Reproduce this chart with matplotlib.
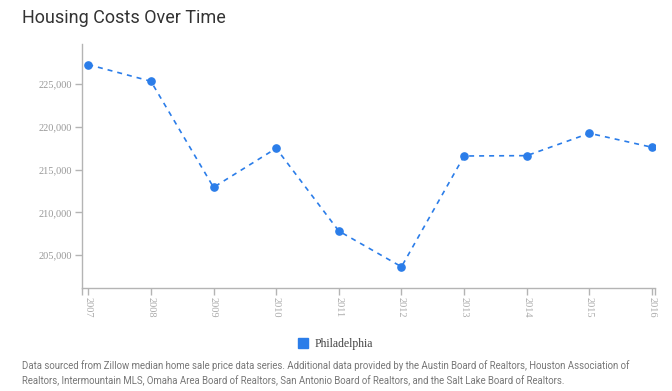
import matplotlib.pyplot as plt
from matplotlib.ticker import FuncFormatter

years = [2007, 2008, 2009, 2010, 2011, 2012, 2013, 2014, 2015, 2016]
prices = [227300, 225350, 212930, 217500, 207810, 203630, 216600, 216640, 219260, 217620]
yticks = [205000, 210000, 215000, 220000, 225000]

blue = '#2b7de9'
grey = '#b4b4b4'

fig = plt.figure(figsize=(6.72, 3.91), dpi=100)
ax = fig.add_axes([0.122, 0.264, 0.853, 0.623])

ax.plot(years, prices, color=blue, linestyle=(0, (3, 3)), linewidth=1.2,
        marker='o', markersize=5.2, label='Philadelphia')

ax.set_xlim(2006.9, 2016.05)
ax.set_ylim(201170, 229690)
ax.set_xticks(years)
ax.set_xticklabels([str(y) for y in years], rotation=-90,
                   fontfamily='Liberation Serif', fontsize=7.5, color='#aaaaaa')
ax.set_yticks(yticks)
ax.yaxis.set_major_formatter(FuncFormatter(lambda v, p: f'{int(v):,}'))
for t in ax.get_yticklabels():
    t.set_fontfamily('Liberation Serif')
    t.set_fontsize(7.5)
    t.set_color('#999999')

for s in ['top', 'right']:
    ax.spines[s].set_visible(False)
for s in ['left', 'bottom']:
    ax.spines[s].set_color(grey)
    ax.spines[s].set_linewidth(1)
ax.tick_params(axis='both', color=grey, length=5, width=1, pad=2)
# short ticks at the ends of the x domain
ax.set_xticks([2006.9, 2016.05], minor=True)
ax.tick_params(axis='x', which='minor', color=grey, length=5, width=1)

fig.text(0.033, 0.953, 'Housing Costs Over Time', fontsize=13,
         fontfamily='Roboto', color='#333333', va='center')

leg = fig.legend(loc='center', bbox_to_anchor=(0.5, 0.121), frameon=False,
                 handlelength=0.8, handletextpad=0.6,
                 prop={'family': 'Liberation Serif', 'size': 8.5})
for h in leg.legend_handles:
    h.set_linestyle('none')
    h.set_marker('s')
    h.set_markersize(7)
for t in leg.get_texts():
    t.set_color('#444444')

fig.text(0.033, 0.046,
         'Data sourced from Zillow median home sale price data series. Additional data provided by the Austin Board of Realtors, Houston Association of\n'
         'Realtors, Intermountain MLS, Omaha Area Board of Realtors, San Antonio Board of Realtors, and the Salt Lake Board of Realtors.',
         fontsize=6.9, fontfamily='Roboto', color='#777777', va='center', linespacing=1.45)

fig.savefig('out.png', dpi=100)
